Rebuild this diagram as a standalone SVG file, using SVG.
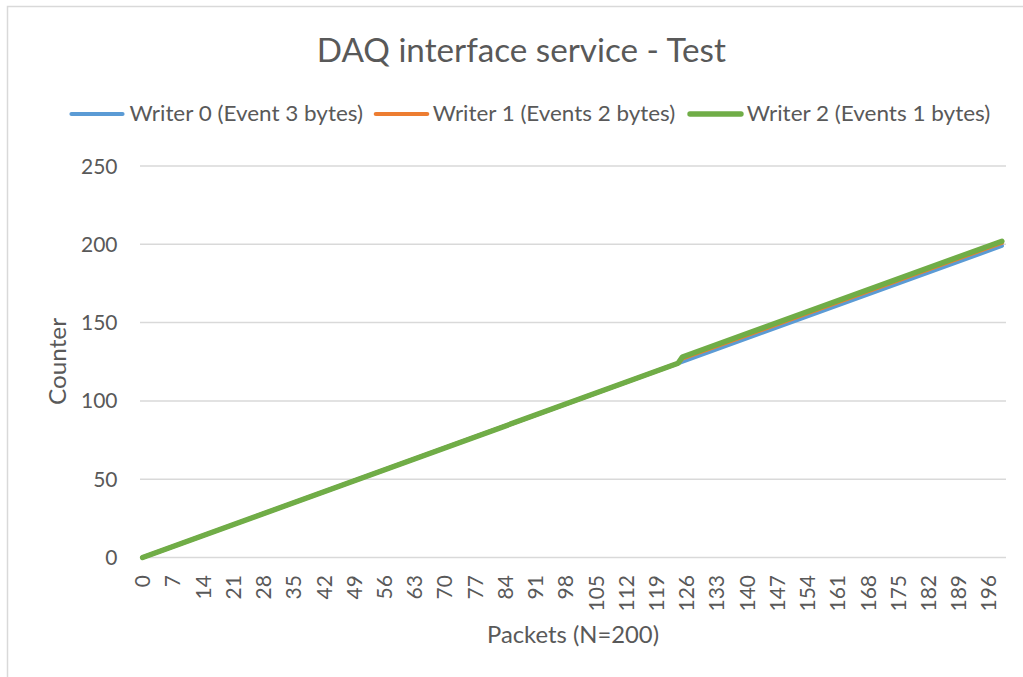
<svg xmlns="http://www.w3.org/2000/svg" width="1023" height="677" viewBox="0 0 1023 677">
  <style>
    text { font-family: Lato, "Open Sans", "Liberation Sans", sans-serif; fill: #595959; }
    .title { font-size: 32.5px; }
    .legend { font-size: 20.6px; }
    .axis-title { font-size: 23px; }
    .tick { font-size: 21px; }
    .ytick { text-anchor: end; }
    .xtick { text-anchor: end; }
    .grid line { stroke: #D9D9D9; stroke-width: 1.5; }
    .series { fill: none; stroke-linecap: round; stroke-linejoin: round; }
    .s0 { stroke: #5B9BD5; stroke-width: 4.2; }
    .s1 { stroke: #ED7D31; stroke-width: 4.2; }
    .s2 { stroke: #70AD47; stroke-width: 5.4; }
  </style>

  <!-- chart area -->
  <rect x="0" y="0" width="1023" height="677" fill="#FFFFFF"/>
  <rect x="7.5" y="6.5" width="1100" height="700" fill="#FFFFFF" stroke="#D9D9D9" stroke-width="1.5"/>

  <!-- title -->
  <text id="chart-title" class="title" x="521.3" y="61.5" text-anchor="middle" textLength="409" lengthAdjust="spacingAndGlyphs">DAQ interface service - Test</text>

  <!-- legend -->
  <g id="legend">
    <g id="legend-writer0">
      <line class="series s0" x1="71.5" y1="114" x2="122.5" y2="114"/>
      <text class="legend" x="129.5" y="121" textLength="233.5" lengthAdjust="spacingAndGlyphs">Writer 0 (Event 3 bytes)</text>
    </g>
    <g id="legend-writer1">
      <line class="series s1" x1="375.8" y1="114" x2="427.2" y2="114"/>
      <text class="legend" x="432.7" y="121" textLength="242.5" lengthAdjust="spacingAndGlyphs">Writer 1 (Events 2 bytes)</text>
    </g>
    <g id="legend-writer2">
      <line class="series s2" x1="690" y1="114" x2="741" y2="114"/>
      <text class="legend" x="746.7" y="121" textLength="243.6" lengthAdjust="spacingAndGlyphs">Writer 2 (Events 1 bytes)</text>
    </g>
  </g>

  <!-- horizontal gridlines, 0..250 step 50 -->
  <g id="gridlines" class="grid">
    <line x1="140" y1="166" x2="1006" y2="166"/>
    <line x1="140" y1="244.3" x2="1006" y2="244.3"/>
    <line x1="140" y1="322.6" x2="1006" y2="322.6"/>
    <line x1="140" y1="400.9" x2="1006" y2="400.9"/>
    <line x1="140" y1="479.2" x2="1006" y2="479.2"/>
    <line x1="140" y1="557.5" x2="1006" y2="557.5"/>
  </g>

  <!-- value axis labels -->
  <g id="y-axis">
    <text class="tick ytick" x="117.5" y="173.5">250</text>
    <text class="tick ytick" x="117.5" y="251.8">200</text>
    <text class="tick ytick" x="117.5" y="330.1">150</text>
    <text class="tick ytick" x="117.5" y="408.4">100</text>
    <text class="tick ytick" x="117.5" y="486.7">50</text>
    <text class="tick ytick" x="117.5" y="565">0</text>
    <text class="axis-title" transform="translate(65.5,361.5) rotate(-90)" text-anchor="middle" textLength="87" lengthAdjust="spacingAndGlyphs">Counter</text>
  </g>

  <!-- category axis labels (every 7th packet) -->
  <g id="x-axis">
    <text class="tick xtick" transform="translate(150.1,575) rotate(-90)">0</text>
    <text class="tick xtick" transform="translate(180.3,575) rotate(-90)">7</text>
    <text class="tick xtick" transform="translate(210.6,575) rotate(-90)">14</text>
    <text class="tick xtick" transform="translate(240.8,575) rotate(-90)">21</text>
    <text class="tick xtick" transform="translate(271.0,575) rotate(-90)">28</text>
    <text class="tick xtick" transform="translate(301.2,575) rotate(-90)">35</text>
    <text class="tick xtick" transform="translate(331.5,575) rotate(-90)">42</text>
    <text class="tick xtick" transform="translate(361.7,575) rotate(-90)">49</text>
    <text class="tick xtick" transform="translate(391.9,575) rotate(-90)">56</text>
    <text class="tick xtick" transform="translate(422.1,575) rotate(-90)">63</text>
    <text class="tick xtick" transform="translate(452.4,575) rotate(-90)">70</text>
    <text class="tick xtick" transform="translate(482.6,575) rotate(-90)">77</text>
    <text class="tick xtick" transform="translate(512.8,575) rotate(-90)">84</text>
    <text class="tick xtick" transform="translate(543.0,575) rotate(-90)">91</text>
    <text class="tick xtick" transform="translate(573.3,575) rotate(-90)">98</text>
    <text class="tick xtick" transform="translate(603.5,575) rotate(-90)">105</text>
    <text class="tick xtick" transform="translate(633.7,575) rotate(-90)">112</text>
    <text class="tick xtick" transform="translate(663.9,575) rotate(-90)">119</text>
    <text class="tick xtick" transform="translate(694.2,575) rotate(-90)">126</text>
    <text class="tick xtick" transform="translate(724.4,575) rotate(-90)">133</text>
    <text class="tick xtick" transform="translate(754.6,575) rotate(-90)">140</text>
    <text class="tick xtick" transform="translate(784.8,575) rotate(-90)">147</text>
    <text class="tick xtick" transform="translate(815.1,575) rotate(-90)">154</text>
    <text class="tick xtick" transform="translate(845.3,575) rotate(-90)">161</text>
    <text class="tick xtick" transform="translate(875.5,575) rotate(-90)">168</text>
    <text class="tick xtick" transform="translate(905.7,575) rotate(-90)">175</text>
    <text class="tick xtick" transform="translate(936.0,575) rotate(-90)">182</text>
    <text class="tick xtick" transform="translate(966.2,575) rotate(-90)">189</text>
    <text class="tick xtick" transform="translate(996.4,575) rotate(-90)">196</text>
    <text class="axis-title" x="573" y="642.5" text-anchor="middle" textLength="172" lengthAdjust="spacingAndGlyphs">Packets (N=200)</text>
  </g>

  <!-- data series: x = 142.6 + 4.318*i, y = 557.5 - 1.566*v -->
  <g id="series">
    <polyline id="writer0" class="series s0" points="142.6,557.5 1001.88,245.87"/>
    <polyline id="writer1" class="series s1" points="142.6,557.5 678.03,363.32 682.35,358.62 1001.88,242.73"/>
    <polyline id="writer2" class="series s2" points="142.6,557.5 678.03,363.32 682.35,357.05 1001.88,241.17"/>
  </g>
</svg>
